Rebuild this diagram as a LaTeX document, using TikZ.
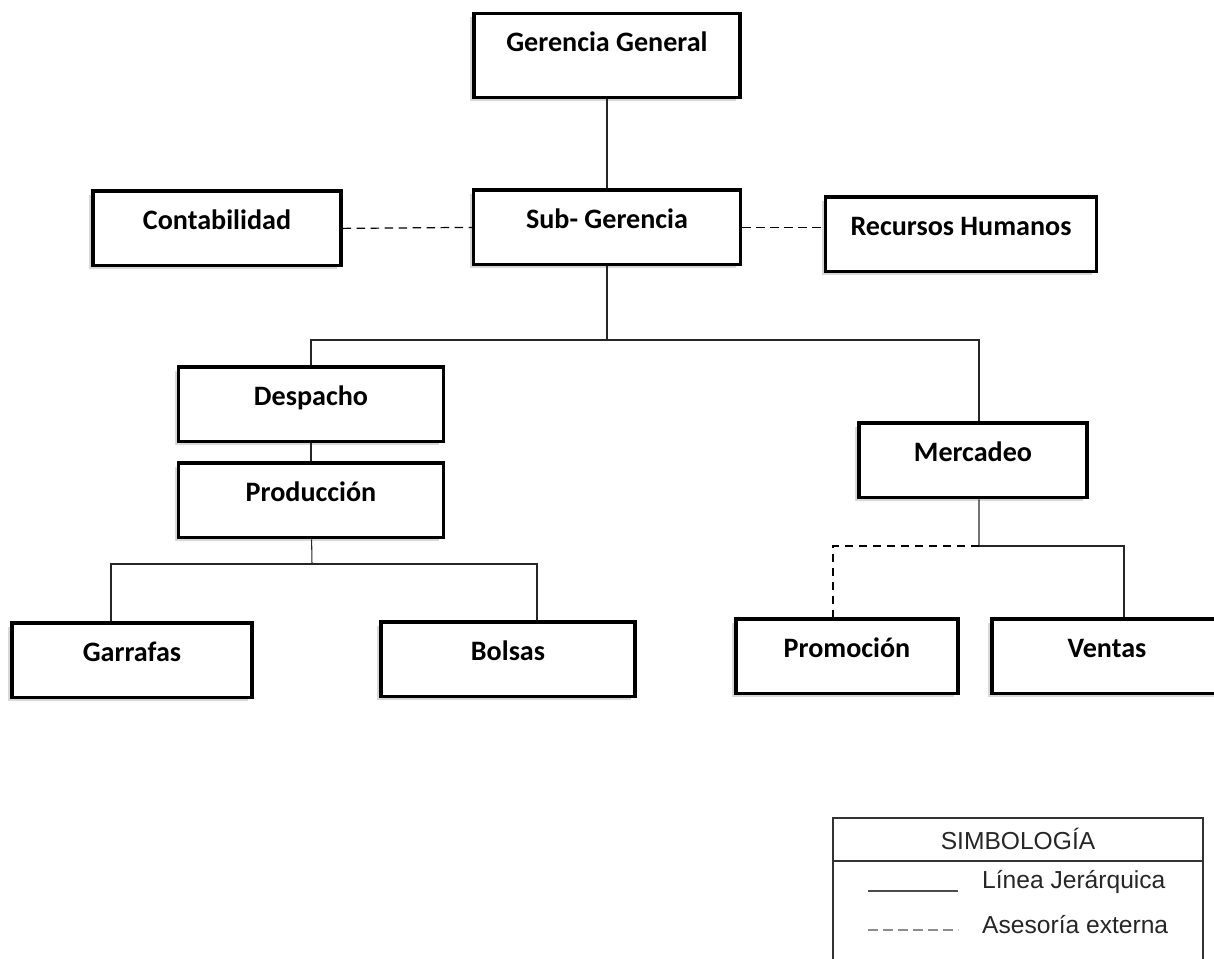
\documentclass[tikz,border=0pt]{standalone}
\usepackage{fontspec}
\setmainfont{Carlito}
\newfontfamily\arialfont{Liberation Sans}
\usetikzlibrary{shadows}

\begin{document}
\begin{tikzpicture}[x=0.02cm,y=-0.02cm,
    caja/.style={draw, line width=1.8pt, fill=white, inner sep=0pt,
        font=\fontsize{16}{19}\selectfont\bfseries,
        text height=22pt, text depth=20.5pt, minimum width=#1,
        drop shadow={shadow xshift=-0.08cm, shadow yshift=-0.07cm, fill=black!30}},
    linea/.style={draw=black!85, line width=0.6pt},
    asesoria/.style={draw=black, line width=0.7pt, dash pattern=on 0.17cm off 0.11cm}]

    % Page size
    \useasboundingbox (0,0) rectangle (1214,959);

    % Draw the boxes
    \node[caja=5.32cm, text depth=26pt] (gg) at (607,55.5) {Gerencia General};
    \node[caja=5.34cm] (sub) at (607,227.4) {Sub- Gerencia};
    \node[caja=4.96cm] (cont) at (217,228.4) {Contabilidad};
    \node[caja=5.42cm] (rrhh) at (961,234.4) {Recursos Humanos};

    \node[caja=5.3cm] (desp) at (311,404.4) {Despacho};
    \node[caja=5.3cm] (prod) at (311,500.4) {Producción};
    \node[caja=4.8cm] (garr) at (132,660.4) {Garrafas};
    \node[caja=5.08cm] (bols) at (508,659.4) {Bolsas};

    \node[caja=4.56cm] (merc) at (973,460.4) {Mercadeo};
    \node[caja=4.44cm] (prom) at (847,656.4) {Promoción};
    \node[caja=4.6cm] (vent) at (1107,656.4) {Ventas};

    % Branch points
    \coordinate (bus) at (607,340);
    \coordinate (busprod) at (312,564);
    \coordinate (busmerc) at (979,546);

    % Draw the connectors
    \draw[linea] (gg) -- (sub);
    \draw[asesoria] (cont.east) -- (sub.west);
    \draw[asesoria] (sub.east) -- (sub.east -| rrhh.west);

    \draw[linea] (sub) -- (bus);
    \draw[linea] (desp.north) |- (bus) -| ([xshift=0.12cm]merc.north);
    \draw[linea] (desp) -- (prod);

    \draw[linea] (prod) -- (busprod);
    \draw[linea] ([xshift=-0.42cm]garr.north) |- (busprod) -| ([xshift=0.58cm]bols.north);

    \draw[linea] ([xshift=0.12cm]merc.south) -- (busmerc);
    \draw[asesoria] (busmerc) -| ([xshift=-0.28cm]prom.north);
    \draw[linea] (busmerc) -| ([xshift=0.34cm]vent.north);

    % Legend
    \draw[black!80, line width=0.6pt] (833,959) -- (833,818) -- (1203,818) -- (1203,959);
    \draw[black!80, line width=0.6pt] (833,861) -- (1203,861);
    \node[font=\arialfont\fontsize{14}{17}\selectfont, text=black!85] (simb) at (1018,839) {SIMBOLOGÍA};
    \node[font=\arialfont\fontsize{14}{17}\selectfont, text=black!85, anchor=west] (jer) at (976,882) {Línea Jerárquica};
    \node[font=\arialfont\fontsize{14}{17}\selectfont, text=black!85, anchor=west] (ext) at (976,925) {Asesoría externa};
    \draw[black!70, line width=0.7pt] (868,891) -- (958,891);
    \draw[black!45, line width=0.9pt, dash pattern=on 0.2cm off 0.1cm] (868,930) -- (958,930);

\end{tikzpicture}
\end{document}
